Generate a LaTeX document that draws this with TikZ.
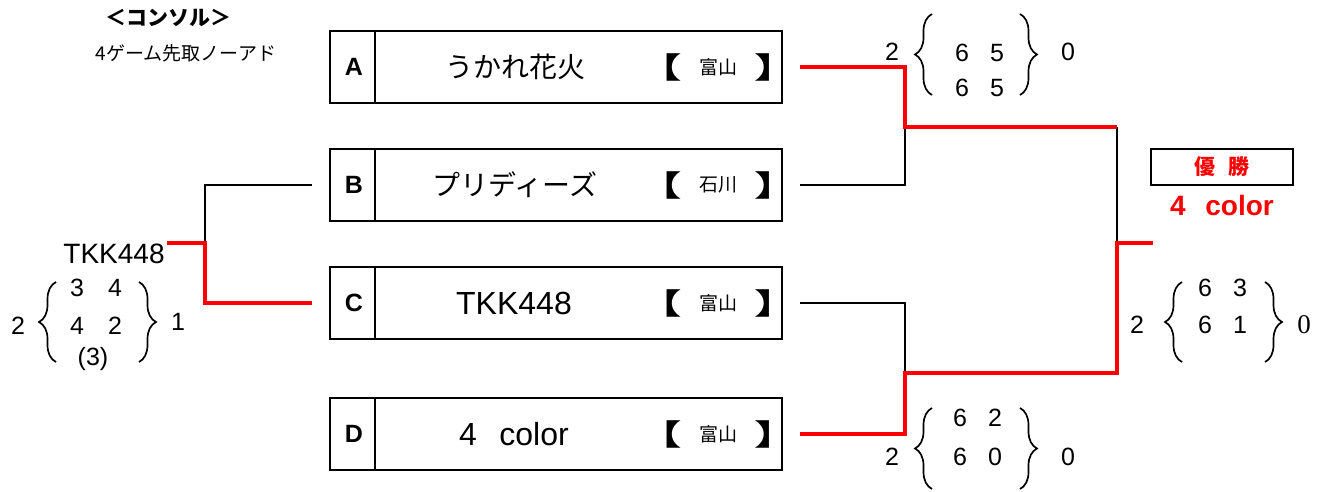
\documentclass[tikz,border=0pt]{standalone}
\usepackage{fontspec}
\setmainfont{Liberation Sans}
\newfontfamily\jp{Noto Sans CJK JP}
\newfontfamily\sernum{Liberation Serif}
\usetikzlibrary{decorations.pathreplacing}
\begin{document}
\begin{tikzpicture}[x=1pt,y=-1pt,
  team/.style={draw,line width=2pt,minimum width=452pt,minimum height=72pt,inner sep=0pt},
  divider/.style={line width=1.6pt},
  letter/.style={font=\bfseries\fontsize{25}{28}\selectfont,inner sep=0pt},
  jname/.style={font=\jp\fontsize{28}{32}\selectfont,inner sep=0pt},
  lname/.style={font=\fontsize{32}{36}\selectfont,inner sep=0pt},
  brk/.style={font=\jp\bfseries\fontsize{29}{32}\selectfont,inner sep=0pt},
  pref/.style={font=\jp\fontsize{19}{22}\selectfont,inner sep=0pt},
  redline/.style={draw=red,line width=3.6pt},
  blkline/.style={draw=black,line width=1.6pt},
  sc/.style={font=\fontsize{25}{28}\selectfont,inner sep=0pt},
  lbr/.style={decorate,decoration={brace,amplitude=17pt,aspect=0.5},line width=1.7pt},
]
\useasboundingbox (0,0) rectangle (1323,492);
\fill[white] (0,0) rectangle (1323,492);

% header
\node[font=\jp\bfseries\fontsize{21}{24}\selectfont,inner sep=0pt] (title) at (168,18) {＜コンソル＞};
\node[font=\jp\fontsize{19}{22}\selectfont,inner sep=0pt] (rule) at (186,53) {4ゲーム先取ノーアド};

% team boxes
\foreach \n/\y in {A/67,B/185,C/303,D/434}{
  \node[team] (box\n) at (556,\y) {};
  \draw[divider] ([xshift=46pt]box\n.north west) -- ([xshift=46pt]box\n.south west);
  \node[letter] (let\n) at (354,\y) {\n};
  \node[brk] (bo\n) at (660,\y) {\scalebox{1.5}[1.0]{【}};
  \node[brk] (bc\n) at (776,\y) {\scalebox{1.5}[1.0]{】}};
}
\node[jname] (nameA) at (515,67) {うかれ花火};
\node[jname] (nameB) at (515,185) {プリディーズ};
\node[lname] (nameC) at (514,303) {TKK448};
\node[lname] (nameD) at (514,434) {4\hspace{0.7em}color};
\node[pref] (prefA) at (718,67) {富山};
\node[pref] (prefB) at (718,185) {石川};
\node[pref] (prefC) at (718,303) {富山};
\node[pref] (prefD) at (718,434) {富山};

% connector coordinates
\coordinate (oA) at (800,67);
\coordinate (oB) at (800,185);
\coordinate (oC) at (800,303);
\coordinate (oD) at (800,434);
\coordinate (jAB) at (905,127);
\coordinate (jCD) at (905,373);
\coordinate (jtop) at (1117,127);
\coordinate (jbot) at (1117,373);
\coordinate (fin) at (1117,243);
\coordinate (champ) at (1153,243);
\coordinate (iB) at (312,185);
\coordinate (iC) at (312,303);
\coordinate (jL) at (205,243);
\coordinate (jL2) at (205,303);
\coordinate (tkend) at (167,243);

% black lines
\draw[blkline] (oB) -| (jAB);
\draw[blkline] (oC) -| (jCD);
\draw[blkline] (jtop) -- (fin);
\draw[blkline] (iB) -| (jL);
% red lines
\draw[redline] (oA) -| (jAB) -- (jtop);
\draw[redline] (oD) -| (jCD) -- (jbot) -- (fin) -- (champ);
\draw[redline] (tkend) -| (jL2) -- (iC);

% left side
\node[font=\fontsize{28}{32}\selectfont,inner sep=0pt] (tkk) at (114,254) {TKK448};
\node[sc] (l2) at (18,326) {2};
\node[sc] (l34a) at (77,288) {3};
\node[sc] (l34b) at (115,288) {4};
\node[sc] (l42a) at (77,326) {4};
\node[sc] (l42b) at (115,326) {2};
\node[sc] (l3) at (93,359) {(3)};
\node[sc] (l1) at (178,322) {1};
\draw[lbr] (56,362) -- (56,282);
\draw[lbr] (139,282) -- (139,362);

% top right score
\node[sc] (t2) at (892,52) {2};
\node[sc] (t65a) at (962,53) {6};
\node[sc] (t65b) at (997,53) {5};
\node[sc] (t65c) at (962,88) {6};
\node[sc] (t65d) at (997,88) {5};
\node[sc] (t0) at (1068,52) {0};
\draw[lbr] (932,95) -- (932,14);
\draw[lbr] (1020,14) -- (1020,95);

% bottom right score
\node[sc] (b2) at (892,457) {2};
\node[sc] (b62a) at (960,418) {6};
\node[sc] (b62b) at (995,418) {2};
\node[sc] (b60a) at (960,457) {6};
\node[sc] (b60b) at (995,457) {0};
\node[sc] (b0) at (1068,457) {0};
\draw[lbr] (932,489) -- (932,408);
\draw[lbr] (1020,408) -- (1020,489);

% final score
\node[sc] (f2) at (1137,325) {2};
\node[sc] (f63a) at (1205,288) {6};
\node[sc] (f63b) at (1240,288) {3};
\node[sc] (f61a) at (1205,325) {6};
\node[sc] (f61b) at (1240,325) {1};
\node[font=\sernum\fontsize{27}{30}\selectfont,inner sep=0pt] (f0) at (1304,325) {0};
\draw[lbr] (1182,362) -- (1182,282);
\draw[lbr] (1265,282) -- (1265,362);

% champion
\node[draw,line width=1.5pt,minimum width=142pt,minimum height=36pt,inner sep=0pt,
      font=\jp\bfseries\fontsize{21}{24}\selectfont,text=red] (winbox) at (1222,167) {優\hspace{0.6em}勝};
\node[font=\bfseries\fontsize{28}{32}\selectfont,text=red,inner sep=0pt] (winner) at (1222,205) {4\hspace{0.7em}color};
\end{tikzpicture}
\end{document}
